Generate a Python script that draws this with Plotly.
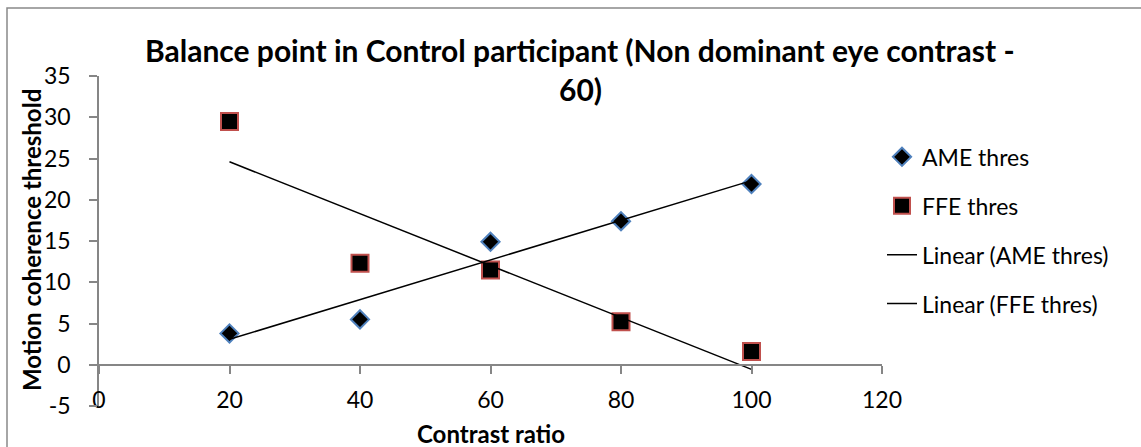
import numpy as np
import plotly.graph_objects as go

contrast = [20, 40, 60, 80, 100]
ame_thres = [3.8, 5.5, 14.9, 17.4, 21.9]
ffe_thres = [29.5, 12.3, 11.5, 5.2, 1.6]

y_tick_values = [-5, 0, 5, 10, 15, 20, 25, 30, 35]
y_tick_labels = ["-5", "0", "5", "10", "15", "20", "25", "30", "35"]
x_tick_values = [0, 20, 40, 60, 80, 100, 120]
x_tick_labels = ["0", "20", "40", "60", "80", "100", "120"]

title_line1 = "Balance point in Control participant (Non dominant eye contrast -"
title_line2 = "60)"
x_title = "Contrast ratio"
y_title = "Motion coherence threshold"

FONT = "Lato"
W, H = 1141, 447
ML, MR, MT, MB = 99, 259, 76, 41
PW, PH = W - ML - MR, H - MT - MB

x = np.array(contrast, dtype=float)
a_fit = np.polyfit(x, np.array(ame_thres), 1)
f_fit = np.polyfit(x, np.array(ffe_thres), 1)
x_line = [min(contrast), max(contrast)]

fig = go.Figure()
fig.add_trace(go.Scatter(
    x=contrast, y=ame_thres, mode="markers", name="AME thres", legendgroup="a",
    marker=dict(symbol="diamond", size=14, color="black",
                line=dict(color="#4F81BD", width=2))))
fig.add_trace(go.Scatter(
    x=contrast, y=ffe_thres, mode="markers", name="FFE thres", legendgroup="b",
    marker=dict(symbol="square", size=17, color="black",
                line=dict(color="#C0504D", width=2))))
fig.add_trace(go.Scatter(
    x=x_line, y=list(np.polyval(a_fit, x_line)), mode="lines",
    name="Linear (AME thres)", legendgroup="c",
    line=dict(color="black", width=1.5)))
fig.add_trace(go.Scatter(
    x=x_line, y=list(np.polyval(f_fit, x_line)), mode="lines",
    name="Linear (FFE thres)", legendgroup="d",
    line=dict(color="black", width=1.5)))

yr = [-5, 35]
zero_pos = (0 - yr[0]) / (yr[1] - yr[0])

fig.update_layout(
    width=W, height=H,
    margin=dict(l=ML, r=MR, t=MT, b=MB),
    paper_bgcolor="white", plot_bgcolor="white",
    font=dict(family=FONT, size=23, color="black"),
    showlegend=True,
    legend=dict(x=1.0, xanchor="left", y=0.82, yanchor="top",
                font=dict(size=23), tracegroupgap=16,
                bgcolor="rgba(0,0,0,0)"),
    xaxis=dict(range=[0, 120], tickmode="array", tickvals=x_tick_values,
               ticktext=x_tick_labels, anchor="free",
               position=zero_pos, showline=True, linecolor="#868686",
               linewidth=1.5, ticks="outside", ticklen=8, tickwidth=1.5,
               tickcolor="#868686", showgrid=False, zeroline=False,
               ticklabelstandoff=7, tickfont=dict(size=23)),
    yaxis=dict(range=yr, tickmode="array", tickvals=y_tick_values,
               ticktext=y_tick_labels, showline=True, linecolor="#868686",
               linewidth=1.5, ticks="outside", ticklen=8, tickwidth=1.5,
               tickcolor="#868686", showgrid=False, zeroline=False,
               ticklabelstandoff=14, tickfont=dict(size=23)),
    annotations=[
        dict(text="<b>" + title_line1 + "</b>", xref="paper", yref="paper",
             x=(580 - ML) / PW, y=(H - MB - 50) / PH, xanchor="center",
             yanchor="middle", showarrow=False, font=dict(size=30)),
        dict(text="<b>" + title_line2 + "</b>", xref="paper", yref="paper",
             x=(580 - ML) / PW, y=(H - MB - 89) / PH, xanchor="center",
             yanchor="middle", showarrow=False, font=dict(size=30)),
        dict(text="<b>" + x_title + "</b>", xref="paper", yref="paper",
             x=0.5, y=(H - MB - 433) / PH, xanchor="center",
             yanchor="middle", showarrow=False, font=dict(size=24)),
        dict(text="<b>" + y_title + "</b>", xref="paper", yref="paper",
             x=(31 - ML) / PW, y=(H - MB - 240) / PH, xanchor="center",
             yanchor="middle", textangle=-90, showarrow=False,
             font=dict(size=24)),
    ],
    shapes=[dict(type="rect", xref="paper", yref="paper",
                 x0=(7 - ML) / PW, x1=(1200 - ML) / PW,
                 y0=(H - MB - 500) / PH, y1=(H - MB - 8) / PH,
                 line=dict(color="#898989", width=1.5),
                 fillcolor="rgba(0,0,0,0)", layer="below")],
)

fig.write_html("out.html")
